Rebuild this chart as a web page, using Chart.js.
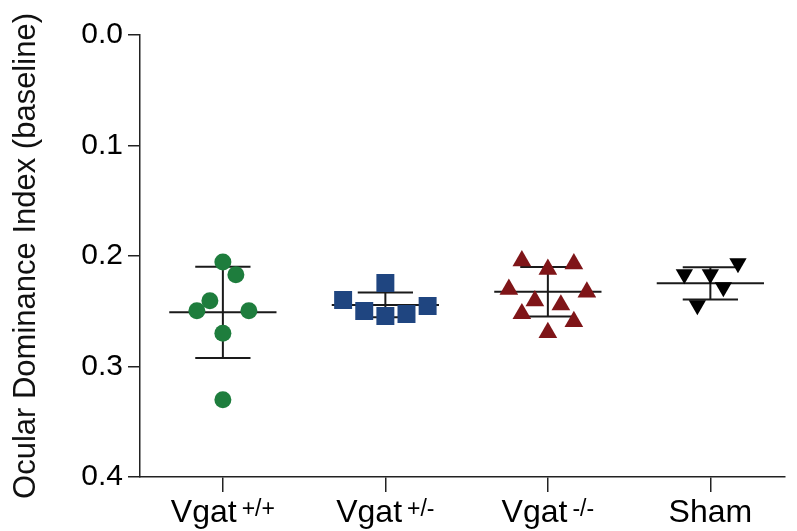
<!DOCTYPE html>
<html>
<head>
<meta charset="utf-8">
<script src="https://cdn.jsdelivr.net/npm/chart.js@4/dist/chart.umd.min.js"></script>
<style>
  html, body { margin: 0; padding: 0; background: #fff; }
  #wrap { width: 797px; height: 531px; }
</style>
</head>
<body>
<div id="wrap"><canvas id="c" width="797" height="531"></canvas></div>
<script>
// ---- data ----
const categories = ['Vgat', 'Vgat', 'Vgat', 'Sham'];
const categorySup = ['+/+', '+/-', '-/-', ''];
const yTicks = [0.0, 0.1, 0.2, 0.3, 0.4];

const vgatWT = [0.2054, 0.2169, 0.2405, 0.2495, 0.2495, 0.2700, 0.3300];
const vgatWTJitter = [0, 0.08, -0.08, -0.16, 0.16, 0, 0];

const vgatHet = [0.2244, 0.2398, 0.2498, 0.2543, 0.2525, 0.2452];
const vgatHetJitter = [0, -0.26, -0.13, 0, 0.13, 0.26];

const vgatKO = [0.2044, 0.2121, 0.2071, 0.2302, 0.2326, 0.2406, 0.2443, 0.2522, 0.2594, 0.2693];
const vgatKOJitter = [-0.16, 0, 0.16, -0.24, 0.24, -0.08, 0.08, -0.16, 0.16, 0];

const sham = [0.2066, 0.2165, 0.2165, 0.2282, 0.2446];
const shamJitter = [0.17, -0.16, 0, 0.08, -0.08];

const groupMeans = [0.2510, 0.2443, 0.2323, 0.2247];
const groupSDs = [0.0412, 0.0112, 0.0224, 0.0146];

// ---- build datasets ----
const FONT = '"Liberation Sans", Arial, Helvetica, sans-serif';
const groups = [
  { vals: vgatWT, jit: vgatWTJitter, color: '#1e7d3d', style: 'circle', radius: 8.5, rot: 0 },
  { vals: vgatHet, jit: vgatHetJitter, color: '#1f4580', style: 'rect', radius: 12.7, rot: 0 },
  { vals: vgatKO, jit: vgatKOJitter, color: '#7f1518', style: 'triangle', radius: 10.8, rot: 0 },
  { vals: sham, jit: shamJitter, color: '#000000', style: 'triangle', radius: 10, rot: 180 }
];

const datasets = [];
groups.forEach((g, i) => {
  datasets.push({
    type: 'scatter',
    data: g.vals.map((v, k) => ({ x: i + g.jit[k], y: v })),
    pointStyle: g.style,
    pointRadius: g.radius,
    pointRotation: g.rot,
    pointBackgroundColor: g.color,
    pointBorderWidth: 0,
    pointBorderColor: g.color,
    order: 0
  });
});

const MEAN_HALF = 0.33, CAP_HALF = 0.17;
groupMeans.forEach((m, i) => {
  const s = groupSDs[i];
  const segs = [
    [{ x: i - MEAN_HALF, y: m }, { x: i + MEAN_HALF, y: m }],
    [{ x: i, y: m - s }, { x: i, y: m + s }],
    [{ x: i - CAP_HALF, y: m - s }, { x: i + CAP_HALF, y: m - s }],
    [{ x: i - CAP_HALF, y: m + s }, { x: i + CAP_HALF, y: m + s }]
  ];
  segs.forEach(seg => datasets.push({
    type: 'scatter',
    data: seg,
    showLine: true,
    borderColor: '#1a1a1a',
    borderWidth: 2,
    pointRadius: 0,
    fill: false,
    order: 1
  }));
});

// ---- x labels with superscripts ----
const xLabelPlugin = {
  id: 'xLabels',
  afterDraw(chart) {
    const ctx = chart.ctx;
    const xs = chart.scales.x;
    ctx.save();
    ctx.fillStyle = '#000';
    ctx.textBaseline = 'alphabetic';
    ctx.textAlign = 'left';
    categories.forEach((name, i) => {
      const cx = xs.getPixelForValue(i);
      ctx.font = '32px ' + FONT;
      const wb = ctx.measureText(name).width;
      const sup = categorySup[i];
      let ws = 0, gap = 0;
      if (sup) {
        ctx.font = '23px ' + FONT;
        ws = ctx.measureText(sup).width;
        gap = 5;
      }
      const start = cx - (wb + gap + ws) / 2;
      ctx.font = '32px ' + FONT;
      ctx.fillText(name, start, 522);
      if (sup) {
        ctx.font = '23px ' + FONT;
        ctx.fillText(sup, start + wb + gap, 516);
      }
    });
    ctx.restore();
  }
};

new Chart(document.getElementById('c'), {
  type: 'scatter',
  data: { datasets },
  plugins: [xLabelPlugin],
  options: {
    responsive: false,
    animation: false,
    events: [],
    layout: { padding: { top: 35, left: 0, right: 0, bottom: 0 } },
    plugins: { legend: { display: false }, tooltip: { enabled: false } },
    scales: {
      x: {
        type: 'linear',
        min: -0.51,
        max: 3.455,
        afterFit(scale) { scale.height = 54; },
        afterBuildTicks(scale) { scale.ticks = categories.map((_, i) => ({ value: i })); },
        ticks: { display: false },
        grid: { display: true, drawOnChartArea: false, drawTicks: true, tickLength: 15, color: '#222', lineWidth: 1.5 },
        border: { display: true, color: '#222', width: 1.5 }
      },
      y: {
        type: 'linear',
        reverse: true,
        min: 0,
        max: 0.4,
        afterFit(scale) { scale.width = 140; },
        afterBuildTicks(scale) { scale.ticks = yTicks.map(v => ({ value: v })); },
        ticks: {
          padding: 5,
          color: '#000',
          font: { family: FONT, size: 30 },
          callback: v => Number(v).toFixed(1)
        },
        grid: { display: true, drawOnChartArea: false, drawTicks: true, tickLength: 12, color: '#222', lineWidth: 1.5 },
        border: { display: true, color: '#222', width: 1.5 },
        title: {
          display: true,
          text: 'Ocular Dominance Index (baseline)',
          color: '#111',
          font: { family: FONT, size: 31 },
          padding: { top: 8, bottom: 0 }
        }
      }
    }
  }
});
</script>
</body>
</html>
